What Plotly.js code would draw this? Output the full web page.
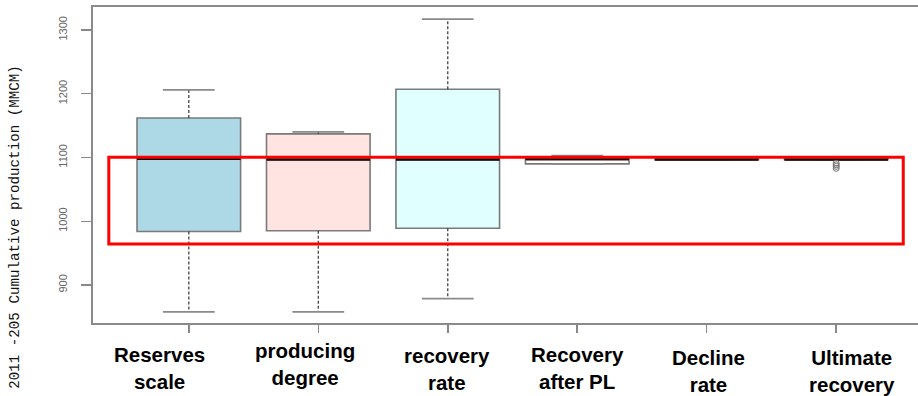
<!DOCTYPE html>
<html>
<head>
<meta charset="utf-8">
<script src="https://cdn.plot.ly/plotly-3.0.1.min.js"></script>
<style>
html,body{margin:0;padding:0;overflow:hidden;background:#fff;width:918px;height:396px;}
#chart{width:935px;height:396px;}
</style>
</head>
<body>
<div id="chart"></div>
<script>
// ---- data ----
const categories = ['Reserves scale','producing degree','recovery rate','Recovery after PL','Decline rate','Ultimate recovery'];
const lowerWhisker = [858, 858, 878.5, 1090, 1096.5, 1096.5];
const q1 = [984, 985, 989, 1090, 1096.5, 1096.5];
const median = [1098, 1097, 1097, 1097.5, 1097, 1097];
const q3 = [1162, 1137, 1207, 1098, 1097.5, 1097.5];
const upperWhisker = [1206, 1140, 1317, 1103, 1097.5, 1097.5];
const outlierCategory = 6;
const outlierValues = [1091, 1088.5, 1086, 1083];
const yTicks = [900, 1000, 1100, 1200, 1300];
const yTitle = '2011 -205 Cumulative production (MMCM)';
const highlightRange = {x0: 0.382, x1: 6.518, y0: 964.3, y1: 1100.3};

// ---- style ----
const fills = ['#ADD8E6', '#FFE4E1', '#E0FFFF', '#FFFFFF', '#FFFFFF', '#FFFFFF'];
const labelXShift = [-29, -13, -1, 0, 2, 16];
const labelYShift = [-45, -41, -46, -45, -48, -48];
const boxW = 0.8;
const capHalf = 0.2;

const traces = [];
categories.forEach((c, k) => {
  const i = k + 1;
  traces.push({
    type: 'box', x: [i], q1: [q1[k]], median: [median[k]], q3: [q3[k]],
    lowerfence: [q1[k]], upperfence: [q3[k]], width: boxW, whiskerwidth: 0,
    boxpoints: false, fillcolor: fills[k], line: {color: '#7a7a7a', width: 1.6},
    hoverinfo: 'skip', showlegend: false
  });
  // dashed whiskers
  traces.push({
    type: 'scatter', mode: 'lines', x: [i, i, null, i, i],
    y: [q1[k], lowerWhisker[k], null, q3[k], upperWhisker[k]],
    line: {color: '#444', width: 1.3, dash: '3px,2px'}, hoverinfo: 'skip', showlegend: false
  });
  // caps
  traces.push({
    type: 'scatter', mode: 'lines', x: [i - capHalf, i + capHalf, null, i - capHalf, i + capHalf],
    y: [lowerWhisker[k], lowerWhisker[k], null, upperWhisker[k], upperWhisker[k]],
    line: {color: '#8a8a8a', width: 1.8}, hoverinfo: 'skip', showlegend: false
  });
  // median
  traces.push({
    type: 'scatter', mode: 'lines', x: [i - boxW / 2, i + boxW / 2], y: [median[k], median[k]],
    line: {color: '#000', width: 2.5}, hoverinfo: 'skip', showlegend: false
  });
});
traces.push({
  type: 'scatter', mode: 'markers', x: outlierValues.map(() => outlierCategory), y: outlierValues,
  marker: {symbol: 'circle-open', size: 6, color: '#777', line: {width: 1}},
  hoverinfo: 'skip', showlegend: false
});

const annotations = categories.map((c, k) => {
  const sp = c.indexOf(' ');
  return {
    text: c.slice(0, sp) + '<br>' + c.slice(sp + 1),
    x: k + 1, xref: 'x', y: 0, yref: 'paper',
    xanchor: 'center', yanchor: 'middle',
    xshift: labelXShift[k], yshift: labelYShift[k],
    showarrow: false,
    font: {family: '"Liberation Sans", Arial, sans-serif', size: 20.5, color: '#000', weight: 'bold'}
  };
});
annotations.push({
  text: yTitle, textangle: -90, xref: 'paper', yref: 'paper',
  x: -0.094, y: 0.305, xanchor: 'center', yanchor: 'middle', showarrow: false,
  font: {family: '"Liberation Mono", "Courier New", monospace', size: 14.2, color: '#111'}
});

const layout = {
  width: 935, height: 396,
  margin: {l: 93, r: 3, t: 7, b: 73},
  paper_bgcolor: '#fff', plot_bgcolor: '#fff',
  xaxis: {
    range: [0.26, 6.74], tickvals: categories.map((c, k) => k + 1), showticklabels: false,
    ticks: 'outside', ticklen: 8, tickcolor: '#888', tickwidth: 1.5,
    showline: true, linecolor: '#8a8a8a', linewidth: 2, mirror: true,
    showgrid: false, zeroline: false
  },
  yaxis: {
    range: [840.4, 1336], tickvals: yTicks, ticktext: yTicks.map(String),
    tickangle: -90, ticks: 'outside', ticklen: 10, tickcolor: '#888', tickwidth: 1.2,
    ticklabelstandoff: 10,
    tickfont: {family: '"Liberation Sans", Arial, sans-serif', size: 11, color: '#666'},
    showline: true, linecolor: '#8a8a8a', linewidth: 2, mirror: true,
    showgrid: false, zeroline: false
  },
  shapes: [{
    type: 'rect', xref: 'x', yref: 'y',
    x0: highlightRange.x0, x1: highlightRange.x1, y0: highlightRange.y0, y1: highlightRange.y1,
    line: {color: '#ff0000', width: 3}
  }],
  annotations: annotations
};

Plotly.newPlot('chart', traces, layout, {displayModeBar: false, staticPlot: true});
</script>
</body>
</html>
